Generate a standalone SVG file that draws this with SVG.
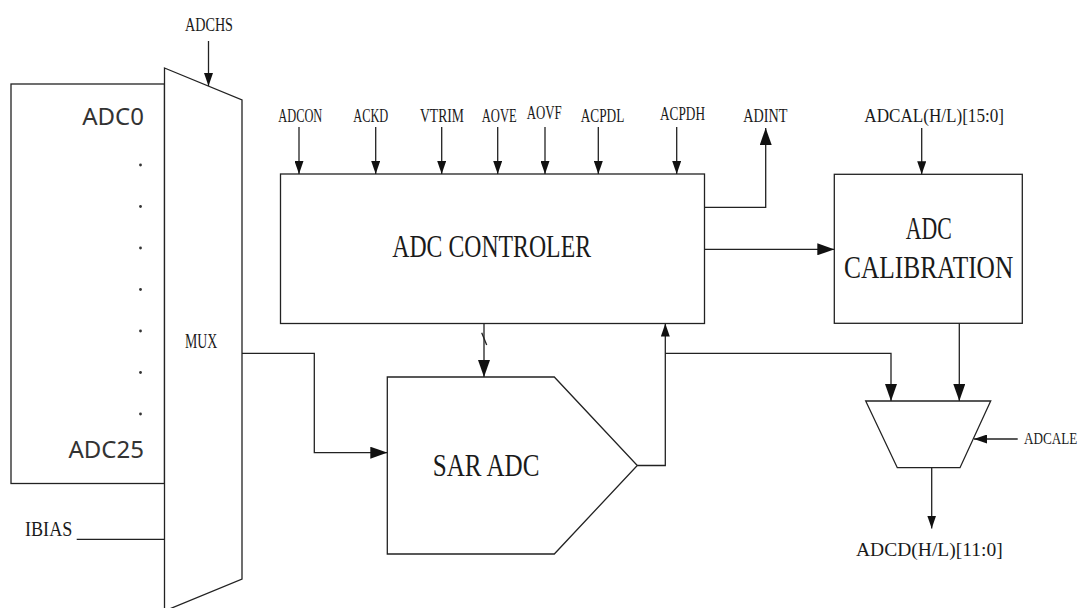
<svg xmlns="http://www.w3.org/2000/svg" width="1083" height="608" viewBox="0 0 1083 608">
<style>
.box{fill:#fff;stroke:#222;stroke-width:1.3}
.ln{fill:none;stroke:#222;stroke-width:1.3}
.lbl{font-family:"Liberation Serif","Times New Roman",serif;fill:#1a1a1a}
.sans{font-family:"Noto Sans","Open Sans",sans-serif;fill:#333;font-size:24px}
.dot{fill:#333}
</style>
<defs>
<marker id="ab" markerUnits="userSpaceOnUse" markerWidth="17" markerHeight="12" refX="17" refY="6" orient="auto"><path d="M0,0 L17,6 L0,12 z" fill="#111"/></marker>
<marker id="as" markerUnits="userSpaceOnUse" markerWidth="13" markerHeight="9" refX="13" refY="4.5" orient="auto"><path d="M0,0 L13,4.5 L0,9 z" fill="#111"/></marker>
</defs>
<rect width="1083" height="608" fill="#fff"/>

<g id="adc-inputs">
<rect class="box" x="11" y="84" width="153.5" height="399.5"/>
<text class="sans" x="144" y="125" text-anchor="end">ADC0</text>
<circle class="dot" cx="140.5" cy="165" r="1.4"/>
<circle class="dot" cx="140.5" cy="206.5" r="1.4"/>
<circle class="dot" cx="140.5" cy="248" r="1.4"/>
<circle class="dot" cx="140.5" cy="289.5" r="1.4"/>
<circle class="dot" cx="140.5" cy="331" r="1.4"/>
<circle class="dot" cx="140.5" cy="372.5" r="1.4"/>
<circle class="dot" cx="140.5" cy="414" r="1.4"/>
<text class="sans" x="144" y="457.5" text-anchor="end">ADC25</text>
</g>

<g id="mux">
<polygon class="box" points="164.5,68 242,100 242,579 164.5,611"/>
<text class="lbl" x="185" y="348.3" font-size="22" textLength="32.3" lengthAdjust="spacingAndGlyphs">MUX</text>
</g>

<g id="controller">
<rect class="box" x="280.5" y="174" width="424" height="149.5"/>
<text class="lbl" x="392.3" y="257.3" font-size="32" textLength="198.7" lengthAdjust="spacingAndGlyphs">ADC CONTROLER</text>
</g>

<g id="calibration">
<rect class="box" x="834.3" y="174.3" width="188" height="149"/>
<text class="lbl" x="905.7" y="239.3" font-size="31" textLength="46" lengthAdjust="spacingAndGlyphs">ADC</text>
<text class="lbl" x="844" y="278.3" font-size="31" textLength="169.3" lengthAdjust="spacingAndGlyphs">CALIBRATION</text>
</g>

<g id="sar-adc">
<polygon class="box" points="387.3,377 554.3,377 637.3,465.5 554.3,554 387.3,554"/>
<text class="lbl" x="432.7" y="475.7" font-size="32" textLength="106.7" lengthAdjust="spacingAndGlyphs">SAR ADC</text>
</g>

<g id="output-mux">
<polygon class="box" points="865.7,401 990.7,401 960,467.7 897.3,467.7"/>
</g>

<g id="labels">
<text class="lbl" x="185" y="31" font-size="19" textLength="48" lengthAdjust="spacingAndGlyphs">ADCHS</text>
<text class="lbl" x="278.3" y="122" font-size="18" textLength="44" lengthAdjust="spacingAndGlyphs">ADCON</text>
<text class="lbl" x="353.3" y="122" font-size="18" textLength="35" lengthAdjust="spacingAndGlyphs">ACKD</text>
<text class="lbl" x="420" y="122" font-size="18" textLength="44" lengthAdjust="spacingAndGlyphs">VTRIM</text>
<text class="lbl" x="481.7" y="122" font-size="18" textLength="35" lengthAdjust="spacingAndGlyphs">AOVE</text>
<text class="lbl" x="526.7" y="119.3" font-size="18" textLength="35" lengthAdjust="spacingAndGlyphs">AOVF</text>
<text class="lbl" x="580.7" y="122" font-size="18" textLength="43.7" lengthAdjust="spacingAndGlyphs">ACPDL</text>
<text class="lbl" x="660" y="120" font-size="18" textLength="45" lengthAdjust="spacingAndGlyphs">ACPDH</text>
<text class="lbl" x="743.3" y="121.7" font-size="18" textLength="44" lengthAdjust="spacingAndGlyphs">ADINT</text>
<text class="lbl" x="864.3" y="121.7" font-size="18" textLength="139.7" lengthAdjust="spacingAndGlyphs">ADCAL(H/L)[15:0]</text>
<text class="lbl" x="25" y="535.7" font-size="21" textLength="47.3" lengthAdjust="spacingAndGlyphs">IBIAS</text>
<text class="lbl" transform="translate(1024,444) scale(0.82,1)" x="0" y="0" font-size="16">ADCALE</text>
<text class="lbl" x="856" y="556" font-size="19" textLength="146.7" lengthAdjust="spacingAndGlyphs">ADCD(H/L)[11:0]</text>
</g>

<g id="connectors">
<line class="ln" x1="208.5" y1="41" x2="208.5" y2="86" marker-end="url(#as)"/>
<line class="ln" x1="299" y1="127" x2="299" y2="174" marker-end="url(#as)"/>
<line class="ln" x1="375.7" y1="127" x2="375.7" y2="174" marker-end="url(#as)"/>
<line class="ln" x1="441.7" y1="127" x2="441.7" y2="174" marker-end="url(#as)"/>
<line class="ln" x1="497.7" y1="127" x2="497.7" y2="174" marker-end="url(#as)"/>
<line class="ln" x1="545" y1="127" x2="545" y2="174" marker-end="url(#as)"/>
<line class="ln" x1="598.3" y1="127" x2="598.3" y2="174" marker-end="url(#as)"/>
<line class="ln" x1="676.7" y1="127" x2="676.7" y2="174" marker-end="url(#as)"/>
<polyline class="ln" points="704.5,207.3 765.7,207.3 765.7,128" marker-end="url(#ab)"/>
<line class="ln" x1="704.5" y1="249.3" x2="834.3" y2="249.3" marker-end="url(#ab)"/>
<line class="ln" x1="921.7" y1="128" x2="921.7" y2="174.3" marker-end="url(#as)"/>
<line class="ln" x1="484" y1="323.5" x2="484" y2="377" marker-end="url(#ab)"/>
<line class="ln" x1="481.7" y1="332.7" x2="486.7" y2="345"/>
<polyline class="ln" points="637.3,465.5 665.3,465.5 665.3,323.5" marker-end="url(#as)"/>
<polyline class="ln" points="665.3,353.3 891,353.3 891,401" marker-end="url(#ab)"/>
<line class="ln" x1="959.3" y1="323.3" x2="959.3" y2="401" marker-end="url(#ab)"/>
<line class="ln" x1="1017.7" y1="439" x2="974" y2="439" marker-end="url(#as)"/>
<line class="ln" x1="931.7" y1="467.7" x2="931.7" y2="528.5" marker-end="url(#as)"/>
<polyline class="ln" points="242,353.3 314.3,353.3 314.3,452.7 387.3,452.7" marker-end="url(#ab)"/>
<line class="ln" x1="76.7" y1="539.3" x2="164.5" y2="539.3"/>
</g>
</svg>
